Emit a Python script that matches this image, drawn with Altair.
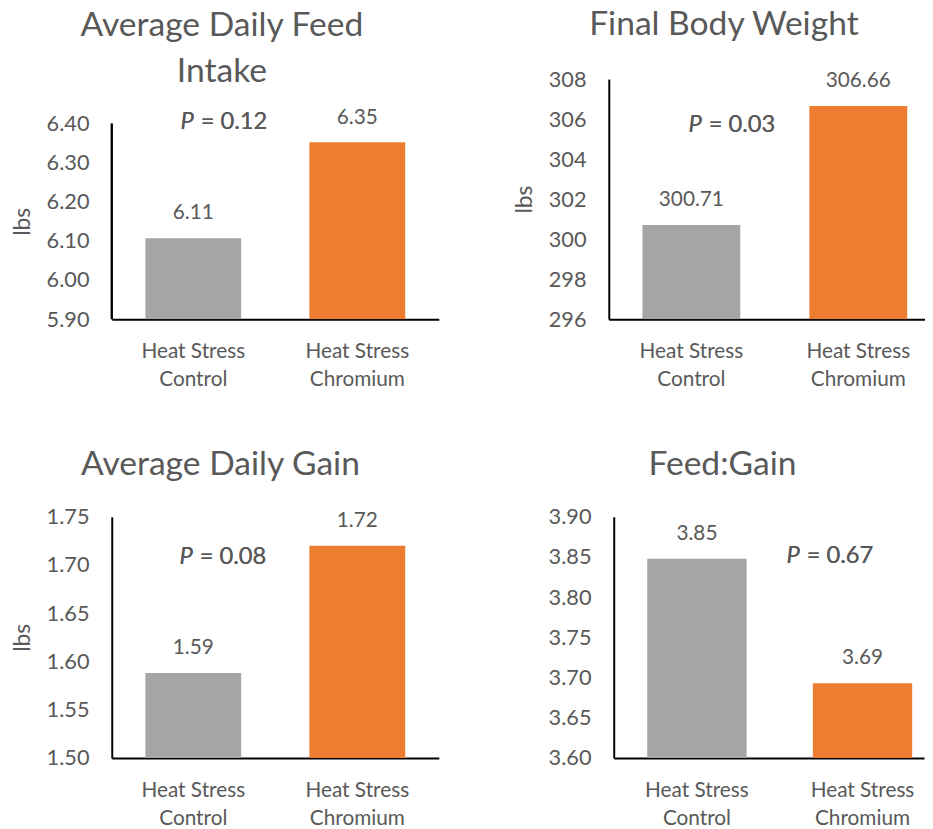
import altair as alt
import pandas as pd

categories = ["Heat Stress Control", "Heat Stress Chromium"]
bar_colors = ["#A5A5A5", "#ED7D31"]

titles = [["Average Daily Feed", "Intake"], "Final Body Weight", "Average Daily Gain", "Feed:Gain"]
adfi = [6.107, 6.352]
fbw = [300.71, 306.66]
adg = [1.588, 1.72]
feed_gain = [3.848, 3.693]
p_values = ["0.12", "0.03", "0.08", "0.67"]
adfi_ticks = [5.90, 6.00, 6.10, 6.20, 6.30, 6.40]
fbw_ticks = [296, 298, 300, 302, 304, 306, 308]
adg_ticks = [1.50, 1.55, 1.60, 1.65, 1.70, 1.75]
fg_ticks = [3.60, 3.65, 3.70, 3.75, 3.80, 3.85, 3.90]

FONT = "Lato"
TXT = "#595959"


def panel(title, values, ticks, tick_fmt, p_text, p_cat, p_dx, p_y, width, height,
          axis_height, xpad, title_dx, title_offset, ytitle):
    df = pd.DataFrame({"cat": categories, "val": values,
                       "label": [format(v, ".2f") for v in values]})
    # the scale may run above the last tick so that the axis line stops at the top tick
    top = ticks[0] + (ticks[-1] - ticks[0]) * height / axis_height
    own_domain = axis_height == height
    x_axis = alt.Axis(title=None, labelAngle=0, ticks=False, domainColor="black",
                      domainWidth=2, labelFont=FONT, labelFontSize=21, labelColor=TXT,
                      labelPadding=22, labelLineHeight=28, labelOverlap=False,
                      labelExpr="[substring(datum.label, 0, 11), substring(datum.label, 12)]")
    y_kwargs = dict(values=ticks, tickCount=len(ticks), format=tick_fmt, grid=False,
                    ticks=False, domain=own_domain, domainColor="black", domainWidth=2,
                    labelFont=FONT, labelFontSize=22, labelColor=TXT, labelPadding=23,
                    labelOverlap=False)
    if ytitle:
        y_kwargs.update(title="lbs", titleFont=FONT, titleFontSize=23,
                        titleFontWeight="normal", titleColor=TXT, titlePadding=12,
                        titleY=height - axis_height / 2)
    else:
        y_kwargs.update(title=None)
    x = alt.X("cat:N", sort=categories,
              scale=alt.Scale(paddingInner=xpad[0], paddingOuter=xpad[1], align=xpad[2]),
              axis=x_axis)
    y = alt.Y("val:Q", scale=alt.Scale(domain=[ticks[0], top], zero=False, nice=False),
              axis=alt.Axis(**y_kwargs))
    base = alt.Chart(df)
    bars = base.mark_bar(clip=True).encode(
        x=x, y=y, y2=alt.datum(ticks[0]),
        color=alt.Color("cat:N", scale=alt.Scale(domain=categories, range=bar_colors), legend=None),
    )
    labels = base.mark_text(dy=-25, fontSize=21, font=FONT, color=TXT).encode(
        x=alt.X("cat:N", sort=categories), y="val:Q", text="label:N")
    p_italic = alt.Chart(df).mark_text(
        text="P", fontStyle="italic", align="right", baseline="middle", dx=p_dx,
        fontSize=24, font=FONT, color=TXT).encode(x=alt.datum(p_cat), y=alt.datum(p_y))
    p_rest = alt.Chart(df).mark_text(
        text="= " + p_text, align="left", baseline="middle", dx=p_dx + 7,
        fontSize=24, font=FONT, color=TXT).encode(x=alt.datum(p_cat), y=alt.datum(p_y))
    layers = [bars, labels, p_italic, p_rest]
    if not own_domain:
        yline = alt.Chart(df).mark_rule(color="black", strokeWidth=2).encode(
            x=alt.value(0), y=alt.datum(ticks[0]), y2=alt.datum(ticks[-1]))
        layers.append(yline)
    return alt.layer(*layers).properties(
        width=width, height=height,
        title=alt.TitleParams(text=title, font=FONT, fontSize=34, fontWeight="normal",
                              color=TXT, anchor="middle", dx=title_dx, offset=title_offset,
                              lineHeight=47),
    )


c1 = panel(titles[0], adfi, adfi_ticks, ".2f", p_values[0], categories[0], 0.5, 6.405,
           331, 243, 198, (0.416, 0.205, 0.5), -54, -10, True)
c2 = panel(titles[1], fbw, fbw_ticks, "d", p_values[1], categories[0], 10.5, 305.71,
           320, 243, 243, (0.414, 0.154, 0.654), -43.5, 27, True)
c3 = panel(titles[2], adg, adg_ticks, ".2f", p_values[2], categories[0], -0.5, 1.7087,
           331, 244, 244, (0.416, 0.205, 0.5), -55.5, 24.5, True)
c4 = panel(titles[3], feed_gain, fg_ticks, ".2f", p_values[3], categories[1], -63.5, 3.8517,
           314, 244, 244, (0.4, 0.137, 0.739), -47, 24.5, False)

row1 = alt.concat(c1, c2, columns=2, spacing=75, align="none")
row2 = alt.concat(c3, c4, columns=2, spacing=110, align="none")
chart = alt.concat(row1, row2, columns=1, spacing=59, align="none").properties(
    padding={"left": 3, "top": -5, "right": 0, "bottom": 0}
).configure_view(strokeWidth=0)

chart.save("out.html", embed_options={"renderer": "svg", "actions": False})
